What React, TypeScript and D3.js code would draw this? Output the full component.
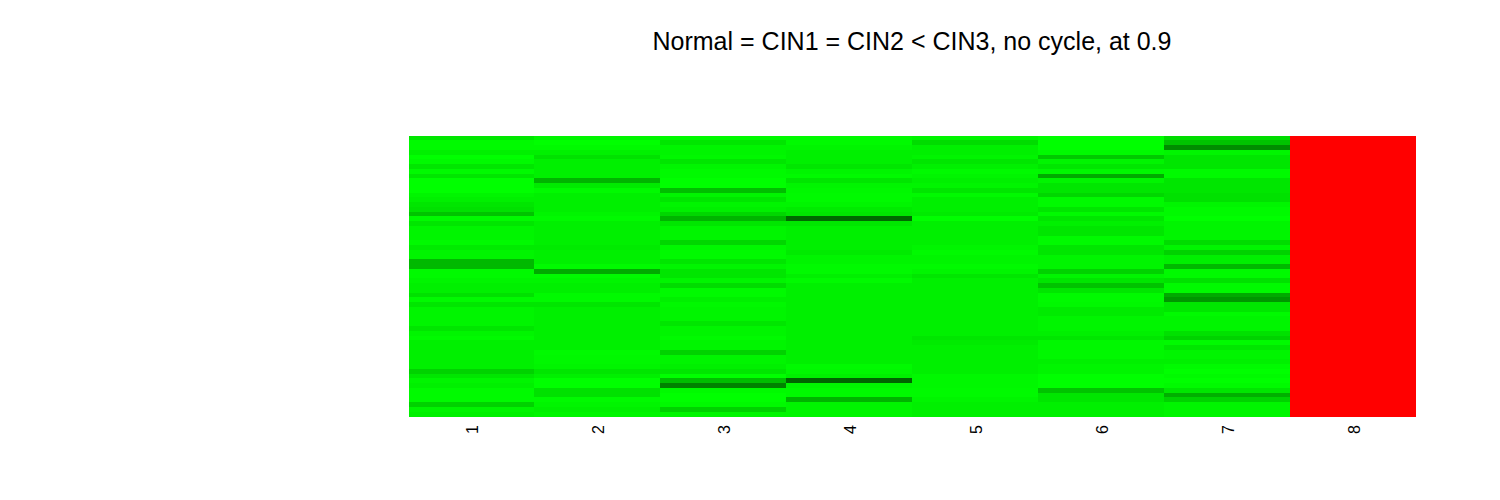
import React from "react";
import * as d3 from "d3";

const title = "Normal = CIN1 = CIN2 < CIN3, no cycle, at 0.9";
const columns = ["1", "2", "3", "4", "5", "6", "7", "8"];

// Scores, top row first: 0 = bright green, 255 = black, 510 = red
const col1 = [25,5,5,15,0,5,25,5,25,0,0,0,10,15,25,30,60,5,25,10,10,10,5,20,10,10,70,70,5,5,10,15,15,30,5,25,10,10,10,10,25,10,5,15,15,15,15,15,15,45,25,10,15,5,5,5,45,10,15];
const col2 = [10,0,5,15,30,15,15,15,15,75,20,5,15,15,15,15,10,5,15,15,15,15,15,20,15,15,15,5,85,5,10,15,15,5,5,25,15,15,15,15,15,15,15,15,15,5,7,7,10,25,15,0,0,30,30,5,10,15,10];
const col3 = [5,25,10,10,7,25,10,5,5,0,0,65,10,25,10,15,40,75,25,10,10,10,40,7,5,5,25,10,25,25,10,35,5,5,15,7,10,10,10,25,10,10,5,10,10,45,10,10,15,25,0,65,125,5,0,0,5,45,10];
const col4 = [5,5,10,15,15,15,25,10,5,25,10,7,5,5,10,20,25,150,25,15,15,15,15,15,20,10,10,5,5,15,5,15,15,15,15,15,15,15,15,15,15,15,15,15,15,15,15,15,5,7,15,155,10,5,5,75,10,10,10];
const col5 = [10,35,15,15,10,25,15,5,10,15,10,25,5,15,15,15,20,0,15,15,15,15,15,10,5,10,10,5,10,25,15,15,15,15,15,15,15,15,15,15,15,15,25,20,15,15,15,15,15,15,7,7,7,5,5,10,15,15,15];
const col6 = [0,0,0,5,55,10,25,7,85,10,25,25,40,5,5,25,5,25,15,25,25,5,5,25,25,10,10,10,45,10,25,60,25,5,5,7,20,20,10,10,10,15,25,7,7,7,7,15,10,10,0,0,0,60,25,25,15,15,15];
const col7 = [35,60,115,10,25,25,25,5,5,25,25,25,30,30,10,5,5,0,10,10,10,10,35,10,45,15,15,70,5,5,30,5,5,85,105,25,25,5,10,10,10,30,45,5,25,10,10,15,5,0,5,0,5,25,80,45,10,10,10];
const col8 = [510,510,510,510,510,510,510,510,510,510,510,510,510,510,510,510,510,510,510,510,510,510,510,510,510,510,510,510,510,510,510,510,510,510,510,510,510,510,510,510,510,510,510,510,510,510,510,510,510,510,510,510,510,510,510,510,510,510,510];
const seriesValues = [col1, col2, col3, col4, col5, col6, col7, col8];

export default function App() {
  const rowIds = d3.range(col1.length);
  const x = d3.scaleBand<string>().domain(columns).range([408.5, 1415.5]);
  const y = d3.scaleBand<number>().domain(rowIds).range([135.5, 416.5]);
  const color = d3
    .scaleLinear<string>()
    .domain([0, 255, 510])
    .range(["#00ff00", "#000000", "#ff0000"]);

  return (
    <svg
      width={1500}
      height={500}
      style={{ position: "absolute", left: 0, top: 0, background: "#fff" }}
    >
      <text
        x={912}
        y={50}
        textAnchor="middle"
        fontFamily="'Liberation Sans', Arial, sans-serif"
        fontSize={25}
        fill="#000"
      >
        {title}
      </text>
      <g shapeRendering="crispEdges">
        {seriesValues.map((vals, c) =>
          vals.map((v, r) => (
            <rect
              key={`${c}-${r}`}
              x={x(columns[c])}
              y={y(r)}
              width={x.bandwidth()}
              height={y.bandwidth()}
              fill={color(v)}
            />
          ))
        )}
      </g>
      {columns.map((c) => {
        const cx = (x(c) as number) + x.bandwidth() / 2;
        return (
          <text
            key={c}
            transform={`translate(${cx + 7},434) rotate(-90)`}
            fontFamily="'Liberation Sans', Arial, sans-serif"
            fontSize={16}
            fill="#000"
          >
            {c}
          </text>
        );
      })}
    </svg>
  );
}
